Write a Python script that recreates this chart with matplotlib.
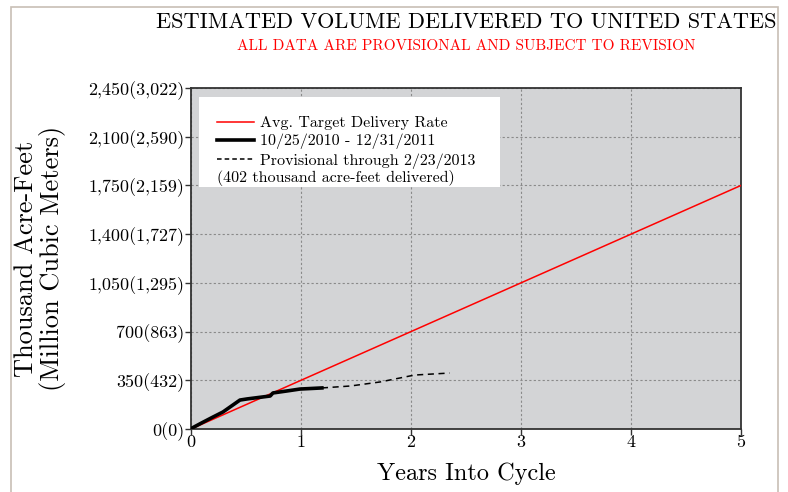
import matplotlib
matplotlib.use('Agg')
import matplotlib.pyplot as plt
from matplotlib.patches import Rectangle
from matplotlib.lines import Line2D
import numpy as np

plt.rcParams['font.family'] = 'serif'
plt.rcParams['font.serif'] = ['cmr10', 'DejaVu Serif']
plt.rcParams['mathtext.fontset'] = 'cm'
plt.rcParams['axes.unicode_minus'] = False

# target delivery: 1,750 thousand AF over 5 years
target_years = [0, 5]
target_kaf = [0, 1750]

# delivered 10/25/2010 - 12/31/2011
actual_years = [0.0, 0.01, 0.1, 0.2, 0.29, 0.445, 0.51, 0.72, 0.745, 0.87, 0.99, 1.19]
actual_kaf = [0, 7, 45, 86, 122, 208, 216, 237, 259, 273, 287, 295]

# provisional through 2/23/2013
prov_years = [1.19, 1.45, 1.72, 1.99, 2.04, 2.35]
prov_kaf = [295, 309, 338, 381, 388, 402]

ytick_vals = [0, 350, 700, 1050, 1400, 1750, 2100, 2450]
ytick_labels = ['0(0)', '350(432)', '700(863)', '1,050(1,295)', '1,400(1,727)',
                '1,750(2,159)', '2,100(2,590)', '2,450(3,022)']
xtick_vals = [0, 1, 2, 3, 4, 5]

fig = plt.figure(figsize=(7.88, 4.92), dpi=100)
ax = fig.add_axes([191/788, 1 - 429/492, 550/788, 341/492])

# figure border
fig.patches.append(Rectangle((11/788, -0.05), 767/788, 1.05 - 7/492, transform=fig.transFigure,
                             fill=False, edgecolor='#c8bfb5', linewidth=1.2, zorder=0))

ax.set_facecolor('#d3d4d6')
ax.grid(True, color='#8a8a8a', linestyle=(0, (2, 2)), linewidth=0.8)
ax.set_axisbelow(True)

ax.plot(target_years, target_kaf, color='red', linewidth=1.1, zorder=3)
ax.plot(actual_years, actual_kaf, color='black', linewidth=2.6, zorder=4)
ax.plot(prov_years, prov_kaf, color='black', linewidth=1.1, linestyle=(0, (4, 3)), zorder=4)

ax.set_xlim(0, 5)
ax.set_ylim(0, 2450)
ax.set_xticks(xtick_vals)
ax.set_xticklabels([str(v) for v in xtick_vals], fontsize=13)
ax.set_yticks(ytick_vals)
ax.set_yticklabels(ytick_labels, fontsize=13)
ax.tick_params(direction='out', length=4, width=1, color='#333333', pad=1)
ax.tick_params(axis='x', pad=0)
for s in ax.spines.values():
    s.set_color('#333333')
    s.set_linewidth(1.3)

ax.set_xlabel('Years Into Cycle', fontsize=17.5, labelpad=9)
ax.set_ylabel('Thousand Acre-Feet\n(Million Cubic Meters)', fontsize=19, labelpad=16,
              linespacing=1.05)

fig.text(466/788, 1 - 22/492, 'ESTIMATED VOLUME DELIVERED TO UNITED STATES',
         ha='center', va='center', fontsize=16)
fig.text(466/788, 1 - 46/492, 'ALL DATA ARE PROVISIONAL AND SUBJECT TO REVISION',
         ha='center', va='center', fontsize=11, color='red')

# legend box
ax.add_patch(Rectangle((0.0145, 0.71), 0.548, 0.264, transform=ax.transAxes,
                       facecolor='white', edgecolor='none', zorder=5))
handles = [Line2D([], [], color='red', linewidth=1.1),
           Line2D([], [], color='black', linewidth=2.6),
           Line2D([], [], color='black', linewidth=1.1, linestyle=(0, (3, 2)))]
labels = ['Avg. Target Delivery Rate', '10/25/2010 - 12/31/2011', 'Provisional through 2/23/2013']
leg = ax.legend(handles, labels, loc='upper left', bbox_to_anchor=(0.048, 0.917),
                frameon=False, fontsize=11.5, handlelength=2.3, handletextpad=0.35,
                labelspacing=0.22, borderaxespad=0, borderpad=0)
leg.set_zorder(6)
ax.text(0.048, 0.735, '(402 thousand acre-feet delivered)', transform=ax.transAxes,
        fontsize=11.5, va='center', ha='left', zorder=6)

fig.savefig('out.png', dpi=100)
